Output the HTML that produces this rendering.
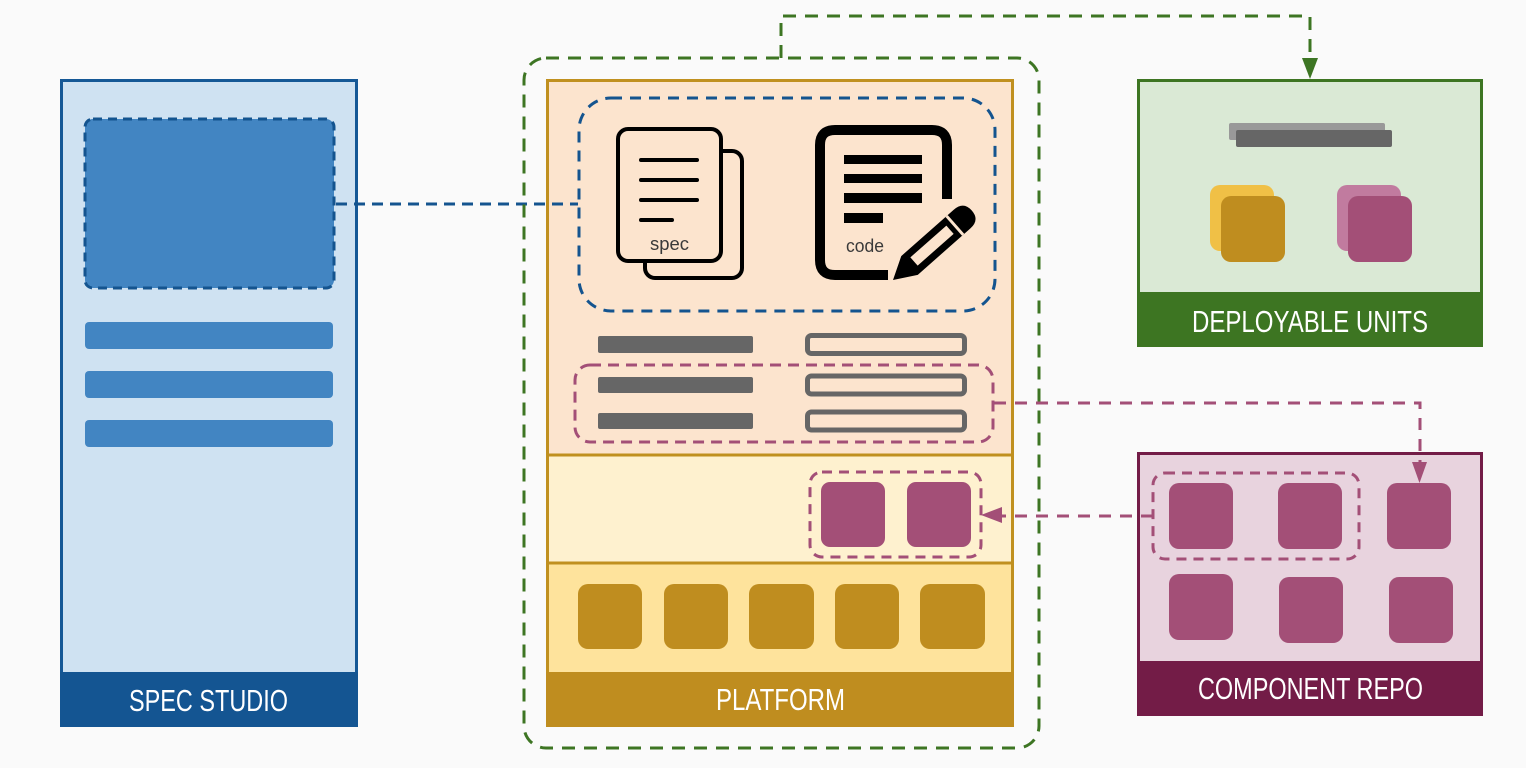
<!DOCTYPE html>
<html><head><meta charset="utf-8"><style>
html,body{margin:0;padding:0;background:#fafafa;}
svg{display:block;}
.lbl{font-family:"Liberation Sans",sans-serif;font-size:31px;fill:#fff;}
.sm{font-family:"Liberation Sans","DejaVu Sans",sans-serif;font-size:18px;fill:#3a3a3a;}
</style></head><body>
<svg width="1526" height="768" viewBox="0 0 1526 768" xmlns="http://www.w3.org/2000/svg">
<rect x="0" y="0" width="1526" height="768" fill="#fafafa"/>

<!-- SPEC STUDIO -->
<rect x="61.5" y="80.5" width="295" height="645" fill="#cfe2f2" stroke="#155896" stroke-width="3"/>
<rect x="60" y="672" width="298" height="55" fill="#145592"/>
<text class="lbl" x="129" y="711" textLength="159" lengthAdjust="spacingAndGlyphs">SPEC STUDIO</text>
<rect x="85" y="119" width="249" height="169" rx="8" fill="#4285c2" stroke="#14548f" stroke-width="3" stroke-dasharray="9 6"/>
<rect x="85" y="322" width="248" height="27" rx="4" fill="#4285c2"/>
<rect x="85" y="371" width="248" height="27" rx="4" fill="#4285c2"/>
<rect x="85" y="420" width="248" height="27" rx="4" fill="#4285c2"/>

<!-- PLATFORM -->
<rect x="547.5" y="80.5" width="465" height="645" fill="#fce4ce" stroke="#c0901f" stroke-width="3"/>
<rect x="549" y="455" width="462" height="108" fill="#fef1cf"/>
<rect x="549" y="563" width="462" height="109" fill="#fee39c"/>
<line x1="547" y1="455" x2="1013" y2="455" stroke="#c0901f" stroke-width="3"/>
<line x1="547" y1="563" x2="1013" y2="563" stroke="#c0901f" stroke-width="3"/>
<rect x="546" y="672" width="468" height="55" fill="#bf8d1f"/>
<text class="lbl" x="716" y="710" textLength="129" lengthAdjust="spacingAndGlyphs">PLATFORM</text>

<!-- blue connector -->
<line x1="336" y1="204" x2="578" y2="204" stroke="#14548f" stroke-width="3" stroke-dasharray="11 7"/>

<!-- blue dashed group -->
<rect x="579" y="98" width="416" height="213" rx="32" fill="none" stroke="#14548f" stroke-width="3" stroke-dasharray="11 8"/>

<!-- spec icon -->
<rect x="645" y="151" width="97" height="127" rx="10" fill="#fce4ce" stroke="#000" stroke-width="4"/>
<rect x="618" y="129" width="103" height="132" rx="10" fill="#fce4ce" stroke="#000" stroke-width="4"/>
<g stroke="#000" stroke-width="4" stroke-linecap="round">
<line x1="641" y1="160" x2="697" y2="160"/>
<line x1="641" y1="180" x2="697" y2="180"/>
<line x1="641" y1="200" x2="697" y2="200"/>
<line x1="641" y1="220" x2="672" y2="220"/>
</g>
<text class="sm" x="650" y="250" textLength="39" lengthAdjust="spacingAndGlyphs">spec</text>

<!-- code icon -->
<path d="M947 199 L947 145 Q947 130 932 130 L835 130 Q820 130 820 145 L820 260 Q820 275 835 275 L888 275" fill="none" stroke="#000" stroke-width="10"/>
<rect x="844" y="155" width="78" height="9" fill="#000"/>
<rect x="844" y="174" width="78" height="9" fill="#000"/>
<rect x="844" y="193" width="78" height="10" fill="#000"/>
<rect x="844" y="213" width="39" height="10" fill="#000"/>
<text class="sm" x="846" y="252" textLength="38" lengthAdjust="spacingAndGlyphs">code</text>
<g transform="translate(893,280) rotate(-41.4)">
<path d="M0 0 L22 -12.5 L92 -12.5 Q105 -12.5 105 0 Q105 12.5 92 12.5 L22 12.5 Z" fill="#000"/>
<rect x="28" y="-5.5" width="48" height="11" fill="#fce4ce"/>
<rect x="81" y="-12.5" width="3" height="25" fill="#fce4ce"/>
</g>

<!-- gray bars -->
<g fill="#666">
<rect x="598" y="336" width="155" height="17" rx="2"/>
<rect x="598" y="377" width="155" height="16" rx="2"/>
<rect x="598" y="413" width="155" height="16" rx="2"/>
</g>
<g fill="none" stroke="#666" stroke-width="5">
<rect x="807.5" y="335.5" width="157" height="18" rx="4"/>
<rect x="807.5" y="376" width="157" height="18" rx="4"/>
<rect x="807.5" y="412" width="157" height="18" rx="4"/>
</g>

<!-- pink dashed group in platform -->
<rect x="575" y="365" width="418" height="77" rx="15" fill="none" stroke="#a34f77" stroke-width="3" stroke-dasharray="11 7"/>

<!-- second section squares -->
<rect x="810" y="472" width="171" height="85" rx="12" fill="none" stroke="#a34f77" stroke-width="3" stroke-dasharray="10 7"/>
<rect x="821" y="482" width="64" height="65" rx="9" fill="#a34f77"/>
<rect x="907" y="482" width="64" height="65" rx="9" fill="#a34f77"/>

<!-- gold squares -->
<g fill="#bf8d1f">
<rect x="578" y="584" width="64" height="65" rx="10"/>
<rect x="664" y="584" width="64" height="65" rx="10"/>
<rect x="749" y="584" width="65" height="65" rx="10"/>
<rect x="835" y="584" width="64" height="65" rx="10"/>
<rect x="920" y="584" width="65" height="65" rx="10"/>
</g>

<!-- green outer dashed -->
<rect x="524" y="58" width="515" height="690" rx="22" fill="none" stroke="#3d7523" stroke-width="3" stroke-dasharray="13 9"/>
<path d="M781 58 L781 16 L1310 16 L1310 60" fill="none" stroke="#3d7523" stroke-width="3" stroke-dasharray="13 9"/>
<path d="M1302 58 L1318 58 L1310 79 Z" fill="#3d7523"/>

<!-- DEPLOYABLE UNITS -->
<rect x="1138.5" y="80.5" width="343" height="265" fill="#dae9d5" stroke="#3d7522" stroke-width="3"/>
<rect x="1137" y="292" width="346" height="55" fill="#3d7522"/>
<text class="lbl" x="1192" y="332" textLength="236" lengthAdjust="spacingAndGlyphs">DEPLOYABLE UNITS</text>
<rect x="1229" y="123" width="156" height="17" rx="2" fill="#999"/>
<rect x="1236" y="130" width="156" height="17" rx="2" fill="#666"/>
<rect x="1210" y="185" width="64" height="66" rx="10" fill="#f0c046"/>
<rect x="1221" y="196" width="64" height="66" rx="10" fill="#bf8d1f"/>
<rect x="1337" y="185" width="64" height="66" rx="10" fill="#c17b9f"/>
<rect x="1348" y="196" width="64" height="66" rx="10" fill="#a34f77"/>

<!-- COMPONENT REPO -->
<rect x="1138.5" y="453.5" width="343" height="260" fill="#e8d3de" stroke="#731c47" stroke-width="3"/>
<rect x="1137" y="661" width="346" height="55" fill="#731c47"/>
<text class="lbl" x="1198" y="699" textLength="225" lengthAdjust="spacingAndGlyphs">COMPONENT REPO</text>
<g fill="#a34f77">
<rect x="1169" y="483" width="64" height="66" rx="10"/>
<rect x="1278" y="483" width="64" height="66" rx="10"/>
<rect x="1387" y="483" width="64" height="66" rx="10"/>
<rect x="1169" y="574" width="64" height="66" rx="10"/>
<rect x="1279" y="577" width="64" height="66" rx="10"/>
<rect x="1389" y="577" width="64" height="66" rx="10"/>
</g>
<rect x="1153" y="473" width="206" height="86" rx="12" fill="none" stroke="#a34f77" stroke-width="3" stroke-dasharray="10 7"/>

<!-- pink connectors -->
<path d="M994 403 L1420 403 L1420 465" fill="none" stroke="#a34f77" stroke-width="3" stroke-dasharray="12 9"/>
<path d="M1412 462 L1427 462 L1419.5 483 Z" fill="#a34f77"/>
<line x1="1153" y1="516" x2="1002" y2="516" stroke="#a34f77" stroke-width="3" stroke-dasharray="12 9"/>
<path d="M981 515 L1002 507 L1002 523 Z" fill="#a34f77"/>
</svg>
</body></html>
